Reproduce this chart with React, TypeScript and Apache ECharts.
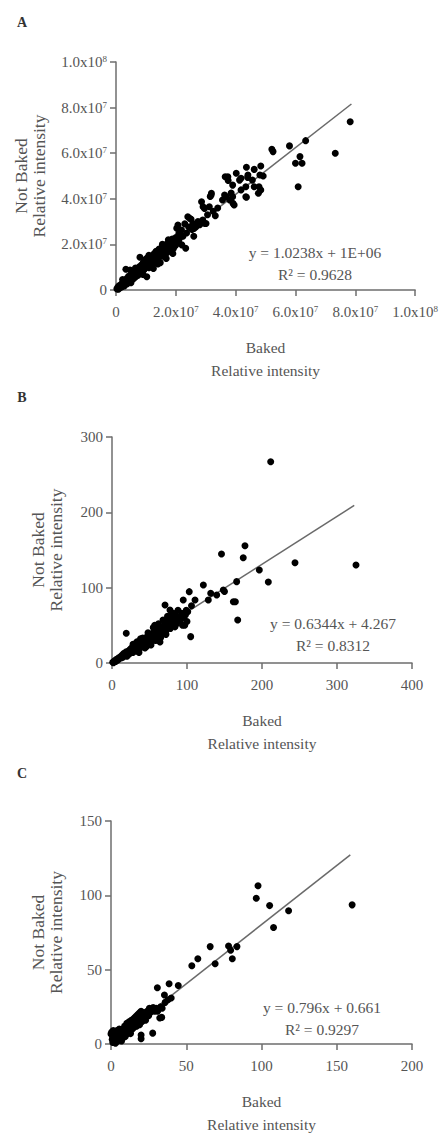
import React, { useEffect, useRef } from "react";
import * as echarts from "echarts";

// Panel A values in units of 1e6 (relative intensity)
const aPoints: number[][] = [
  [0.3,0.5],[0.6,1.2],[0.8,0.3],[1.0,1.8],[1.2,0.9],[1.5,2.2],[1.7,1.2],[2.0,2.8],[2.1,1.6],[2.4,3.5],[2.5,2.2],[2.8,1.8],[3.0,4.0],[3.1,2.9],[3.3,9.1],[3.5,3.6],[3.6,5.0],[3.8,2.8],[4.0,4.4],[4.2,6.0],[4.4,3.5],[4.6,5.2],[4.7,8.8],[4.9,4.6],[5.1,6.5],[5.3,5.4],[5.5,4.6],[5.6,7.4],[5.8,6.0],[6.0,5.2],[6.2,7.9],[6.4,6.6],[6.6,5.8],[6.8,8.6],[7.0,7.0],[7.2,9.4],[7.4,6.5],[7.6,8.4],[7.8,10.2],[8.0,14.4],[8.1,7.6],[8.3,9.2],[8.5,11.0],[8.7,8.1],[8.9,9.9],[9.1,12.0],[9.3,8.8],[9.5,10.6],[9.7,13.3],[9.9,9.8],[10.1,11.6],[10.3,5.8],[10.4,14.0],[10.6,10.4],[10.8,12.3],[11.0,9.8],[11.2,13.4],[11.4,11.6],[11.6,14.6],[11.8,10.9],[12.0,12.8],[12.2,15.0],[12.4,11.8],[12.6,13.9],[12.8,16.0],[13.0,12.6],[13.2,14.5],[13.4,17.0],[13.6,13.4],[13.8,15.4],[14.0,16.8],[14.2,14.0],[14.4,18.0],[14.6,15.5],[14.8,12.0],[15.0,17.2],[15.2,15.0],[15.4,18.8],[15.6,16.4],[15.8,14.8],[16.0,19.0],[16.2,17.2],[16.4,15.6],[16.6,19.8],[16.8,17.9],[17.0,16.4],[17.2,20.3],[17.4,18.5],[17.6,17.0],[17.8,21.0],[18.0,19.1],[18.2,17.8],[18.4,20.5],[18.6,18.6],[18.8,22.4],[19.0,19.8],[19.2,18.2],[19.5,21.2],[19.8,19.4],[20.0,23.0],[20.2,20.2],[20.3,27.1],[20.7,28.5],[20.9,21.4],[21.2,22.6],[21.9,26.3],[22.4,23.6],[23.3,18.3],[23.6,25.0],[24.0,32.1],[24.3,27.6],[24.7,31.4],[25.1,31.0],[25.4,26.5],[25.7,29.2],[26.1,27.0],[26.8,27.8],[27.4,30.0],[28.0,28.6],[28.6,38.7],[29.0,30.7],[29.1,36.5],[29.6,35.8],[29.7,29.2],[30.1,29.2],[30.6,33.0],[31.2,36.5],[31.5,41.0],[31.8,41.7],[31.9,42.4],[32.5,34.5],[33.2,32.6],[34.0,36.0],[35.6,39.5],[36.3,41.7],[36.5,49.7],[36.8,40.9],[37.4,49.7],[37.5,48.0],[38.0,39.5],[38.5,42.5],[39.0,46.0],[39.0,40.9],[39.1,38.0],[39.5,37.3],[40.2,51.2],[41.3,48.2],[41.8,49.0],[41.8,43.9],[43.4,45.3],[43.4,40.9],[43.6,53.8],[43.6,40.7],[44.0,49.4],[44.1,50.4],[45.6,48.2],[46.2,52.9],[46.2,45.3],[47.6,42.4],[47.8,45.3],[48.1,50.4],[48.4,54.4],[48.4,43.9],[49.2,50.0],[52.1,61.7],[52.5,60.7],[58.0,63.2],[60.0,55.6],[60.9,45.3],[61.5,58.5],[62.2,55.6],[63.4,65.5],[73.3,60.0],[78.3,73.8],
  [2.2,4.6],[5.0,3.2],[6.5,9.6],[9.0,6.8],[11.0,15.2],[12.5,9.4],[14.0,11.4],[15.5,20.0],[16.8,13.8],[17.5,22.0],[19.0,16.0],[21.0,24.8],[22.0,19.8],[23.0,29.0],[26.0,23.6]
];

const bPoints: number[][] = [
  [1,1],[2,0.5],[3,2.5],[4,3],[5,2],[6,5],[8,4],[9,7],[10,6],[12,9],[13,7],[14,11],[15,8],[16,13],[17,10],[18,12],[19,39.5],[19,15],[20,9],[21,14],[22,16],[23,12],[24,18],[25,15],[26,20],[27,17],[28,14],[29,21],[30,18],[31,23],[32,20],[33,16],[34,25],[35,22],[36,19],[37,27],[38,24],[39,21],[40,30],[41,26],[42,23],[43,32],[44,28],[45,25],[46,34],[47,30],[48,27],[49,36],[50,32],[51,29],[52,38],[53,34],[54,31],[55,40],[56,36],[57,33],[58,42],[59,38],[60,35],[61,44],[62,40],[63,37],[64,46],[65,42],[66,39],[67,48],[68,44],[69,41],[70,50],[70.7,77],[71,46],[72,43],[73,52],[74,48],[75,56],[76,52],[77,60],[77.3,70.4],[78,55],[79,50],[80,58],[81,62],[82,54],[83,60],[84,57],[85,63],[86,59],[88,61],[90,58],[92,62],[94,50],[95,83.6],[96,60],[98,64],[100,55],[101,68],[103,94.7],[104.9,35],[106,76],[110.7,83.6],[121.8,103.5],[128.4,83.6],[131.6,92.5],[139.6,90.3],[146,144.7],[148.4,97],[150,95],[161.8,81.4],[164.5,81.4],[166.2,108],[167.6,57.1],[175,139.8],[177.3,155.7],[196.4,123.5],[208.4,107.5],[211.6,267.2],[244,133],[325.3,130.1],
  [28,25],[33,28],[36,14],[41,33],[44,20],[48,40],[52,24],[55,47],[58,30],[62,52],[65,34],[68,57],[72,38],[74,62],[78,46],[82,66],[86,52],[88,70],[91,56],[93,66],[97,50],[99,70],[38,32],[46,22],[57,50],[64,28],[79,63],[84,48]
];

const cPoints: number[][] = [
  [0,6.8],[0.5,8],[0.8,3],[1,5],[1.2,1],[1.5,9],[2,2],[2,6],[2.5,4],[3,8],[3,0.5],[3.5,3],[4,6],[4,9],[4.5,2],[5,4.5],[5,7.5],[5.5,10],[6,3],[6,6],[6.5,8.5],[7,5],[7,2],[7.5,7],[8,10],[8,4],[8.5,6.5],[9,9],[9,12],[9.5,5],[10,8],[10,11],[10.5,14],[11,7],[11,10],[11.5,13],[12,9],[12,15],[12.5,11],[13,13],[13,7],[13.5,16],[14,10],[14,14],[14.5,12],[15,17],[15,11],[15.5,14],[16,18],[16,13],[16.5,15.5],[17,19],[17,12],[17.5,17],[18,14],[18,20],[18.5,16],[19,21],[19,13],[19.5,18],[20,6],[20,22],[20,3.5],[20.5,15],[21,19],[21.5,17],[22,21],[22.5,18],[23,16],[23.5,20],[24,22],[25,19],[25.5,24],[26,21],[27,23],[27.7,7.3],[28,24.6],[29,22],[30,24],[30.8,37.8],[31,22],[32.4,17.5],[33,25],[33.7,17.9],[34,24],[35.5,33],[36,28],[37.9,29.8],[38.6,40.5],[40,31],[44.7,39.4],[53.7,52.6],[57.7,57.3],[65.9,65.5],[69.2,54],[78.1,65.9],[79.5,63.1],[80.6,57.3],[83.7,65.5],[96.5,98],[97.7,106.4],[105.4,93.1],[108,78.4],[118,89.6],[160.2,93.6]
];

// regression fits as printed on the chart
const aFit = { slope: 1.0238, intercept: 1.0, xEnd: 78.7 };
const bFit = { slope: 0.6344, intercept: 4.267, xEnd: 323 };
const cFit = { slope: 0.796, intercept: 0.661, xEnd: 159 };

const aEquation = ["y = 1.0238x + 1E+06", "R² = 0.9628"];
const bEquation = ["y = 0.6344x + 4.267", "R² = 0.8312"];
const cEquation = ["y = 0.796x + 0.661", "R² = 0.9297"];

const panelLetters = ["A", "B", "C"];
const xTitle = "Baked\nRelative intensity";
const yTitle = "Not Baked\nRelative intensity";

const FONT = "Liberation Serif";
const TXT = "#555";
const AXIS = "#6e6e6e";

function sciLabel(v: number): string {
  if (v === 0) return "0";
  const raw = v * 1e6;
  const exp = Math.floor(Math.log10(raw) + 1e-9);
  const man = raw / Math.pow(10, exp);
  return "{b|" + man.toFixed(1) + "x10}{s|" + exp + "}";
}

const rich = {
  b: { fontFamily: FONT, fontSize: 15, color: TXT },
  s: { fontFamily: FONT, fontSize: 9, color: TXT, verticalAlign: "top" as const },
};

function fitLine(f: { slope: number; intercept: number; xEnd: number }) {
  return [
    [0, f.intercept],
    [f.xEnd, f.slope * f.xEnd + f.intercept],
  ];
}

export default function App() {
  const ref = useRef<HTMLDivElement>(null);
  useEffect(() => {
    if (!ref.current) return;
    const chart = echarts.init(ref.current, null, { renderer: "svg" });
    const grids = [
      { left: 116, top: 62, width: 301, height: 228 },
      { left: 112, top: 437, width: 300, height: 226 },
      { left: 111, top: 821, width: 301, height: 226 },
    ];
    const axisCommon = {
      type: "value" as const,
      splitLine: { show: false },
      axisLine: { show: true, lineStyle: { color: AXIS, width: 1.5 } },
      axisTick: { show: true, length: 6, lineStyle: { color: AXIS, width: 1.5 } },
      nameLocation: "middle" as const,
    };
    const xRanges = [
      { max: 100, interval: 20 },
      { max: 400, interval: 100 },
      { max: 200, interval: 50 },
    ];
    const yRanges = [
      { max: 100, interval: 20 },
      { max: 300, interval: 100 },
      { max: 150, interval: 50 },
    ];
    const yGaps = [68, 47, 46];
    const xAxes = xRanges.map((r, i) => ({
      ...axisCommon,
      gridIndex: i,
      min: 0,
      max: r.max,
      interval: r.interval,
      name: xTitle,
      nameGap: 46,
      nameTextStyle: { fontFamily: FONT, fontSize: 15.5, color: TXT, lineHeight: 23 },
      axisLabel: {
        margin: 14,
        fontFamily: FONT,
        fontSize: 15,
        color: TXT,
        rich,
        formatter: i === 0 ? sciLabel : (v: number) => String(v),
      },
    }));
    const yAxes = yRanges.map((r, i) => ({
      ...axisCommon,
      gridIndex: i,
      min: 0,
      max: r.max,
      interval: r.interval,
      name: yTitle,
      nameGap: yGaps[i],
      nameRotate: 90,
      nameTextStyle: { fontFamily: FONT, fontSize: 17.5, color: TXT, lineHeight: 18 },
      axisLabel: {
        margin: 9,
        fontFamily: FONT,
        fontSize: 15,
        color: TXT,
        rich,
        formatter: i === 0 ? sciLabel : (v: number) => String(v),
      },
    }));
    const pointSets = [aPoints, bPoints, cPoints];
    const fits = [aFit, bFit, cFit];
    const series: any[] = [];
    pointSets.forEach((pts, i) => {
      series.push({
        type: "line",
        xAxisIndex: i,
        yAxisIndex: i,
        data: fitLine(fits[i]),
        symbol: "none",
        lineStyle: { color: "#6a6a6a", width: 1.5 },
        silent: true,
        z: 1,
      });
      series.push({
        type: "scatter",
        xAxisIndex: i,
        yAxisIndex: i,
        data: pts,
        symbol: "circle",
        symbolSize: 7,
        itemStyle: { color: "#000", opacity: 1 },
        z: 2,
      });
    });
    const eqPos = [
      { x: 315, y: 252 },
      { x: 333, y: 623 },
      { x: 322, y: 1007 },
    ];
    const eqs = [aEquation, bEquation, cEquation];
    const letterY = [22, 397, 773];
    const graphic: any[] = [];
    eqs.forEach((eq, i) => {
      graphic.push({
        type: "text",
        x: eqPos[i].x,
        y: eqPos[i].y,
        style: {
          text: eq[0],
          fontFamily: FONT,
          fontSize: 15.5,
          fill: TXT,
          align: "center",
          verticalAlign: "middle",
        },
      });
      graphic.push({
        type: "text",
        x: eqPos[i].x,
        y: eqPos[i].y + 22,
        style: {
          text: eq[1],
          fontFamily: FONT,
          fontSize: 15.5,
          fill: TXT,
          align: "center",
          verticalAlign: "middle",
        },
      });
      graphic.push({
        type: "text",
        x: 22,
        y: letterY[i],
        style: {
          text: panelLetters[i],
          fontFamily: FONT,
          fontSize: 14,
          fontWeight: "bold",
          fill: "#333",
          align: "center",
          verticalAlign: "middle",
        },
      });
    });
    chart.setOption({
      animation: false,
      backgroundColor: "#fff",
      grid: grids,
      xAxis: xAxes,
      yAxis: yAxes,
      series,
      graphic,
    });
    return () => chart.dispose();
  }, []);
  return (
    <div
      ref={ref}
      style={{ position: "absolute", left: 0, top: 0, width: 441, height: 1137 }}
    />
  );
}
